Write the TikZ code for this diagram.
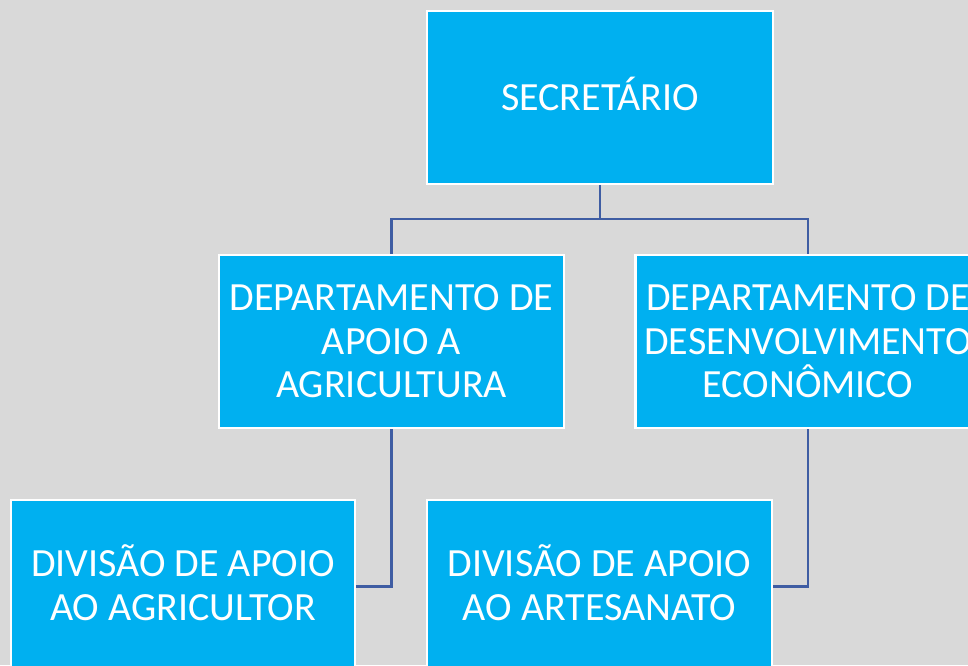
\documentclass[tikz,border=0pt]{standalone}
\usepackage{fontspec}
\setmainfont{Carlito}
\definecolor{bgc}{HTML}{D9D9D9}
\definecolor{boxc}{HTML}{00B0F0}
\definecolor{linec}{HTML}{3F5DA3}
\tikzset{
  orgbox/.style={draw=white, line width=1.2pt, fill=boxc, text=white,
    minimum width=172.5pt, minimum height=86.5pt, inner sep=0pt,
    align=center, font=\fontsize{20pt}{21.8pt}\selectfont},
  conn/.style={draw=linec, line width=1.2pt}
}
\begin{document}
\begin{tikzpicture}[x=0.5pt,y=-0.5pt]
\fill[bgc] (0,0) rectangle (968,665);
\useasboundingbox (0,0) rectangle (968,665);
\clip (0,0) rectangle (968,665);
\node[orgbox, minimum width=173pt, text depth=4pt] (sec) at (600,97.5) {SECRETÁRIO};
\node[orgbox] (dep1) at (391.5,341.5) {DEPARTAMENTO DE\\APOIO A\\AGRICULTURA};
\node[orgbox] (dep2) at (808,341.5) {DEPARTAMENTO DE\\DESENVOLVIMENTO\\ECONÔMICO};
\node[orgbox, minimum width=172pt, text depth=4pt] (div1) at (183,586.5) {DIVISÃO DE APOIO\\AO AGRICULTOR};
\node[orgbox, text depth=4pt] (div2) at (599.5,586.5) {DIVISÃO DE APOIO\\AO ARTESANATO};
\coordinate (j) at (600,219);
\draw[conn] (sec.south) -- (j);
\draw[conn] (j) -| (dep1.north);
\draw[conn] (j) -| (dep2.north);
\draw[conn] (dep1.south) |- (div1.east);
\draw[conn] (dep2.south) |- (div2.east);
\end{tikzpicture}
\end{document}
